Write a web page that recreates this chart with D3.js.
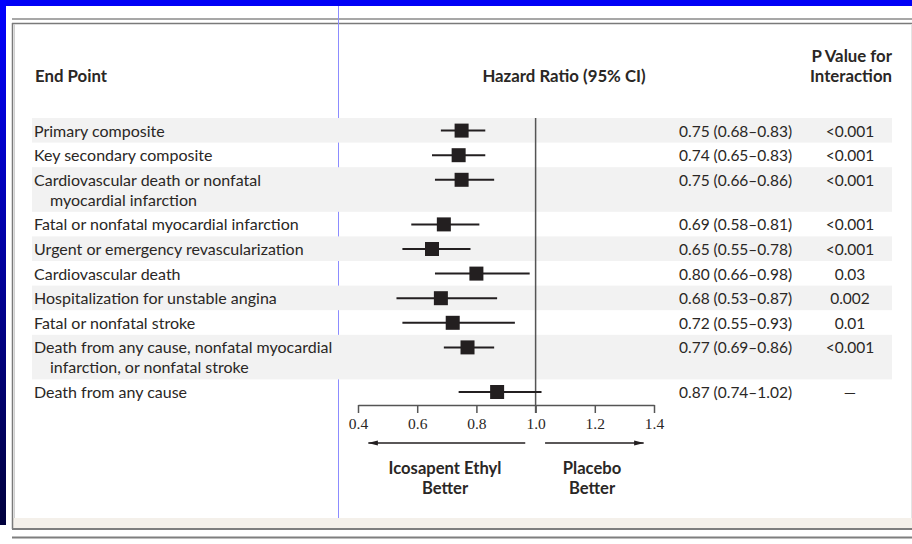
<!DOCTYPE html>
<html>
<head>
<meta charset="utf-8">
<script src="https://cdn.jsdelivr.net/npm/d3@7"></script>
<style>
  html, body { margin: 0; padding: 0; background: #ffffff; }
  svg { display: block; }
  text { font-family: Lato, "Open Sans", sans-serif; fill: #2a2725; }
</style>
</head>
<body>
<svg id="chart" width="912" height="544"></svg>
<script>
// End points (each entry is the label split into its printed lines)
const endpoints = [
  ["Primary composite"],
  ["Key secondary composite"],
  ["Cardiovascular death or nonfatal", "myocardial infarction"],
  ["Fatal or nonfatal myocardial infarction"],
  ["Urgent or emergency revascularization"],
  ["Cardiovascular death"],
  ["Hospitalization for unstable angina"],
  ["Fatal or nonfatal stroke"],
  ["Death from any cause, nonfatal myocardial", "infarction, or nonfatal stroke"],
  ["Death from any cause"]
];
// Hazard ratios with 95% confidence limits
const hazardRatio = [0.75, 0.74, 0.75, 0.69, 0.65, 0.80, 0.68, 0.72, 0.77, 0.87];
const ciLower     = [0.68, 0.65, 0.66, 0.58, 0.55, 0.66, 0.53, 0.55, 0.69, 0.74];
const ciUpper     = [0.83, 0.83, 0.86, 0.81, 0.78, 0.98, 0.87, 0.93, 0.86, 1.02];
// P values for interaction
const pValues = ["<0.001", "<0.001", "<0.001", "<0.001", "<0.001", "0.03", "0.002", "0.01", "<0.001", "\u2014"];
// Axis ticks
const axisTicks = [0.4, 0.6, 0.8, 1.0, 1.2, 1.4];

const svg = d3.select("#chart");
const W = 912, H = 544;

// ---- page frame ----
const defs = svg.append("defs");
const grad = defs.append("linearGradient").attr("id", "sideBlue")
  .attr("x1", 0).attr("y1", 0).attr("x2", 0).attr("y2", 1);
grad.append("stop").attr("offset", "0%").attr("stop-color", "#0000ff");
grad.append("stop").attr("offset", "100%").attr("stop-color", "#00003c");

svg.append("rect").attr("x", 0).attr("y", 0).attr("width", W).attr("height", 6).attr("fill", "#0000f6");
svg.append("rect").attr("x", 0).attr("y", 0).attr("width", 6).attr("height", 525).attr("fill", "url(#sideBlue)");

// bottom tinted band
svg.append("rect").attr("x", 13).attr("y", 518).attr("width", W - 13).attr("height", 10).attr("fill", "#f4f0ea");

const frame = svg.append("g").attr("fill", "none");
frame.append("line").attr("x1", 12).attr("x2", W).attr("y1", 19).attr("y2", 19).attr("stroke", "#8a8a8a").attr("stroke-width", 1.5);
frame.append("line").attr("x1", 12).attr("x2", W).attr("y1", 23.5).attr("y2", 23.5).attr("stroke", "#7a7a7a").attr("stroke-width", 1.5);
frame.append("line").attr("x1", 12.5).attr("x2", 12.5).attr("y1", 23).attr("y2", 529).attr("stroke", "#7a7a7a").attr("stroke-width", 1.5);
frame.append("line").attr("x1", 14.5).attr("x2", 14.5).attr("y1", 24).attr("y2", 518).attr("stroke", "#d0d0d0").attr("stroke-width", 1);
frame.append("line").attr("x1", 911.5).attr("x2", 911.5).attr("y1", 24).attr("y2", 518).attr("stroke", "#e4e4e4").attr("stroke-width", 1);
frame.append("line").attr("x1", 12).attr("x2", W).attr("y1", 529).attr("y2", 529).attr("stroke", "#7e7e7e").attr("stroke-width", 2);
frame.append("line").attr("x1", 12).attr("x2", W).attr("y1", 537.5).attr("y2", 537.5).attr("stroke", "#7e7e7e").attr("stroke-width", 2);
frame.append("line").attr("x1", 338.5).attr("x2", 338.5).attr("y1", 6).attr("y2", 518).attr("stroke", "#8c8cff").attr("stroke-width", 1);

// ---- layout of rows ----
const tableTop = 118;
const lineStep = 20;
const rowPad = 4.6;
const rows = [];
let cursor = tableTop;
endpoints.forEach((lines, i) => {
  const h = rowPad + lineStep * lines.length;
  rows.push({ i, lines, top: cursor, height: h, mid: cursor + 12.6 });
  cursor += h;
});

const x = d3.scaleLinear().domain([0.4, 1.4]).range([358, 654]);
const f2 = d3.format(".2f");

// shaded stripes on alternate rows
svg.append("g").selectAll("rect")
  .data(rows.filter(r => r.i % 2 === 0))
  .join("rect")
  .attr("x", 32).attr("width", 892 - 32)
  .attr("y", r => r.top).attr("height", r => r.height)
  .attr("fill", "#f2f2f2");

// ---- headers ----
const head = svg.append("g").style("font-weight", 700).style("font-size", "16.8px");
head.append("text").attr("x", 35).attr("y", 82).text("End Point");
head.append("text").attr("x", 564).attr("y", 82).attr("text-anchor", "middle").text("Hazard Ratio (95% CI)");
head.append("text").attr("x", 892).attr("y", 62).attr("text-anchor", "end").text("P Value for");
head.append("text").attr("x", 892).attr("y", 82).attr("text-anchor", "end").text("Interaction");

// ---- end point labels ----
const labels = svg.append("g").style("font-size", "16px");
rows.forEach(r => {
  r.lines.forEach((ln, k) => {
    labels.append("text")
      .attr("x", k === 0 ? 34 : 50)
      .attr("y", r.top + 18.5 + k * lineStep)
      .text(ln);
  });
});

// hazard ratio text and p values
const valueText = svg.append("g").style("font-size", "15.5px");
valueText.selectAll("text.hr")
  .data(rows).join("text").attr("class", "hr")
  .attr("x", 679).attr("y", r => r.top + 18.5)
  .text(r => `${f2(hazardRatio[r.i])} (${f2(ciLower[r.i])}\u2013${f2(ciUpper[r.i])})`);
valueText.selectAll("text.pv")
  .data(rows).join("text").attr("class", "pv")
  .attr("x", 850).attr("y", r => r.top + 18.5).attr("text-anchor", "middle")
  .text(r => pValues[r.i]);

// ---- axis ----
const axisY = 405;
const axis = d3.axisBottom(x)
  .tickValues(axisTicks)
  .tickFormat(d3.format(".1f"))
  .tickSize(8)
  .tickSizeOuter(0)
  .tickPadding(5);
const axisG = svg.append("g").attr("transform", `translate(0,${axisY})`).call(axis);
axisG.select(".domain").attr("stroke", "#555").attr("stroke-width", 1.5);
axisG.selectAll(".tick line").attr("stroke", "#555").attr("stroke-width", 1.5);
axisG.selectAll(".tick text")
  .style("font-family", "'Liberation Serif', serif")
  .style("font-size", "15.5px")
  .attr("fill", "#2f2f2f");

// no-effect reference line
svg.append("line")
  .attr("x1", x(1)).attr("x2", x(1))
  .attr("y1", tableTop).attr("y2", axisY + 8)
  .attr("stroke", "#555").attr("stroke-width", 1.5);

// ---- confidence intervals and point estimates ----
const marks = svg.append("g");
marks.selectAll("line.ci")
  .data(rows).join("line").attr("class", "ci")
  .attr("x1", r => x(ciLower[r.i])).attr("x2", r => x(ciUpper[r.i]))
  .attr("y1", r => r.mid).attr("y2", r => r.mid)
  .attr("stroke", "#231f20").attr("stroke-width", 2);
const sq = 14;
marks.selectAll("rect.est")
  .data(rows).join("rect").attr("class", "est")
  .attr("x", r => x(hazardRatio[r.i]) - sq / 2)
  .attr("y", r => r.mid - sq / 2)
  .attr("width", sq).attr("height", sq)
  .attr("fill", "#231f20");

// ---- direction arrows ----
defs.append("marker").attr("id", "head")
  .attr("viewBox", "0 0 10 6").attr("refX", 9.5).attr("refY", 3)
  .attr("markerWidth", 10).attr("markerHeight", 6).attr("orient", "auto-start-reverse")
  .attr("markerUnits", "userSpaceOnUse")
  .append("path").attr("d", "M0,0.5 L10,3 L0,5.5 Z").attr("fill", "#231f20");
const arrowY = 443;
svg.append("line")
  .attr("x1", x(0.965)).attr("x2", x(0.435)).attr("y1", arrowY).attr("y2", arrowY)
  .attr("stroke", "#231f20").attr("stroke-width", 1.5).attr("marker-end", "url(#head)");
svg.append("line")
  .attr("x1", x(1.032)).attr("x2", x(1.365)).attr("y1", arrowY).attr("y2", arrowY)
  .attr("stroke", "#231f20").attr("stroke-width", 1.5).attr("marker-end", "url(#head)");

const dir = svg.append("g").style("font-weight", 700).style("font-size", "16.6px").attr("text-anchor", "middle");
dir.append("text").attr("x", 445).attr("y", 474).text("Icosapent Ethyl");
dir.append("text").attr("x", 445).attr("y", 494).text("Better");
dir.append("text").attr("x", 592).attr("y", 474).text("Placebo");
dir.append("text").attr("x", 592).attr("y", 494).text("Better");
</script>
</body>
</html>
